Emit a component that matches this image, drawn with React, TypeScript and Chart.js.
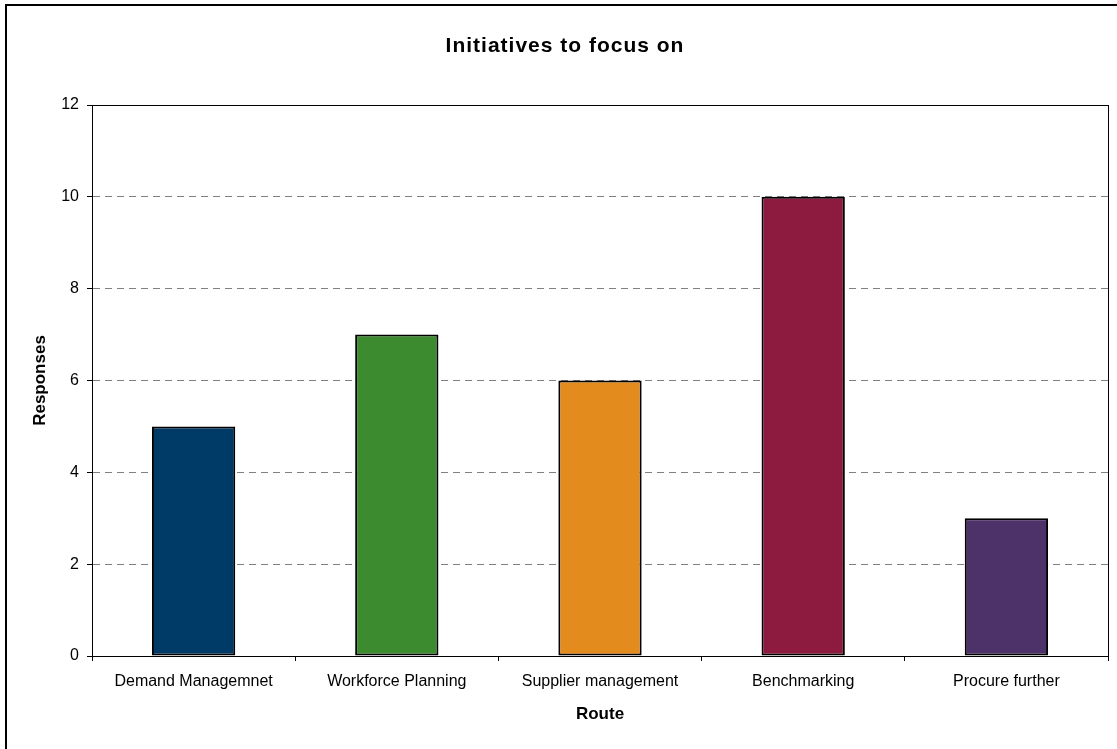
import React, { useEffect, useRef } from "react";
import { Chart, registerables } from "chart.js";

Chart.register(...registerables);

const chartTitle = "Initiatives to focus on";
const xAxisTitle = "Route";
const yAxisTitle = "Responses";
const categories = [
  "Demand Managemnet",
  "Workforce Planning",
  "Supplier management",
  "Benchmarking",
  "Procure further",
];
const responses = [5, 7, 6, 10, 3];
const barColors = ["#003B68", "#3D8B2F", "#E38B1D", "#8C1B3F", "#4D3169"];
const yMin = 0;
const yMax = 12;
const yStep = 2;

const FONT = "Arial, 'Liberation Sans', sans-serif";

const framePlugin = {
  id: "framePlugin",
  afterDraw(chart: any) {
    const { ctx, chartArea } = chart;
    ctx.save();
    ctx.strokeStyle = "#000";
    ctx.lineWidth = 1;
    ctx.strokeRect(
      Math.round(chartArea.left) + 0.5,
      Math.round(chartArea.top) + 0.5,
      Math.round(chartArea.right - chartArea.left),
      Math.round(chartArea.bottom - chartArea.top)
    );
    ctx.lineWidth = 2;
    ctx.beginPath();
    ctx.moveTo(6, chart.height + 5);
    ctx.lineTo(6, 5);
    ctx.lineTo(chart.width + 5, 5);
    ctx.stroke();
    ctx.fillStyle = "#000";
    ctx.font = `bold 21px ${FONT}`;
    (ctx as any).letterSpacing = "1px";
    ctx.textAlign = "center";
    ctx.textBaseline = "middle";
    ctx.fillText(chartTitle, 565, 46);
    ctx.restore();
  },
};

export default function App() {
  const ref = useRef<HTMLCanvasElement | null>(null);

  useEffect(() => {
    document.body.style.margin = "0";
    const canvas = ref.current;
    if (!canvas) return;
    const chart = new Chart(canvas, {
      type: "bar",
      data: {
        labels: categories,
        datasets: [
          {
            data: responses,
            backgroundColor: barColors,
            borderColor: "#000",
            borderWidth: 2,
            borderSkipped: false,
            categoryPercentage: 1,
            barPercentage: 0.41,
          },
        ],
      },
      options: {
        responsive: false,
        animation: false,
        devicePixelRatio: 1,
        layout: { padding: { top: 105, right: 9, left: 0, bottom: 0 } },
        plugins: {
          legend: { display: false },
          tooltip: { enabled: false },
          title: { display: false },
        },
        scales: {
          x: {
            offset: true,
            grid: {
              offset: true,
              drawOnChartArea: false,
              drawTicks: true,
              tickLength: 5,
              tickColor: "#000",
            },
            border: { display: true, color: "#000", width: 1 },
            ticks: {
              color: "#000",
              font: { family: FONT, size: 16 },
              padding: 11,
              maxRotation: 0,
              autoSkip: false,
            },
            title: {
              display: true,
              text: xAxisTitle,
              color: "#000",
              font: { family: FONT, size: 17, weight: "bold" },
              padding: { top: 0, bottom: 24 },
            },
            afterFit(scale: any) {
              scale.height = 93;
            },
          },
          y: {
            min: yMin,
            max: yMax,
            grid: {
              color: (c: any) =>
                c.tick && (c.tick.value === yMin || c.tick.value === yMax)
                  ? "rgba(0,0,0,0)"
                  : "#808080",
              lineWidth: 1,
              tickLength: 5,
              tickColor: "#000",
            },
            border: { display: true, color: "#000", width: 1, dash: [7, 5] },
            ticks: {
              stepSize: yStep,
              color: "#000",
              font: { family: FONT, size: 16 },
              padding: 8,
            },
            title: {
              display: true,
              text: yAxisTitle,
              color: "#000",
              font: { family: FONT, size: 17, weight: "bold" },
              padding: { top: 30, bottom: 0 },
            },
            afterFit(scale: any) {
              scale.width = 92;
            },
          },
        },
      },
      plugins: [framePlugin],
    });
    return () => chart.destroy();
  }, []);

  return <canvas ref={ref} width={1117} height={749} style={{ display: "block" }} />;
}
